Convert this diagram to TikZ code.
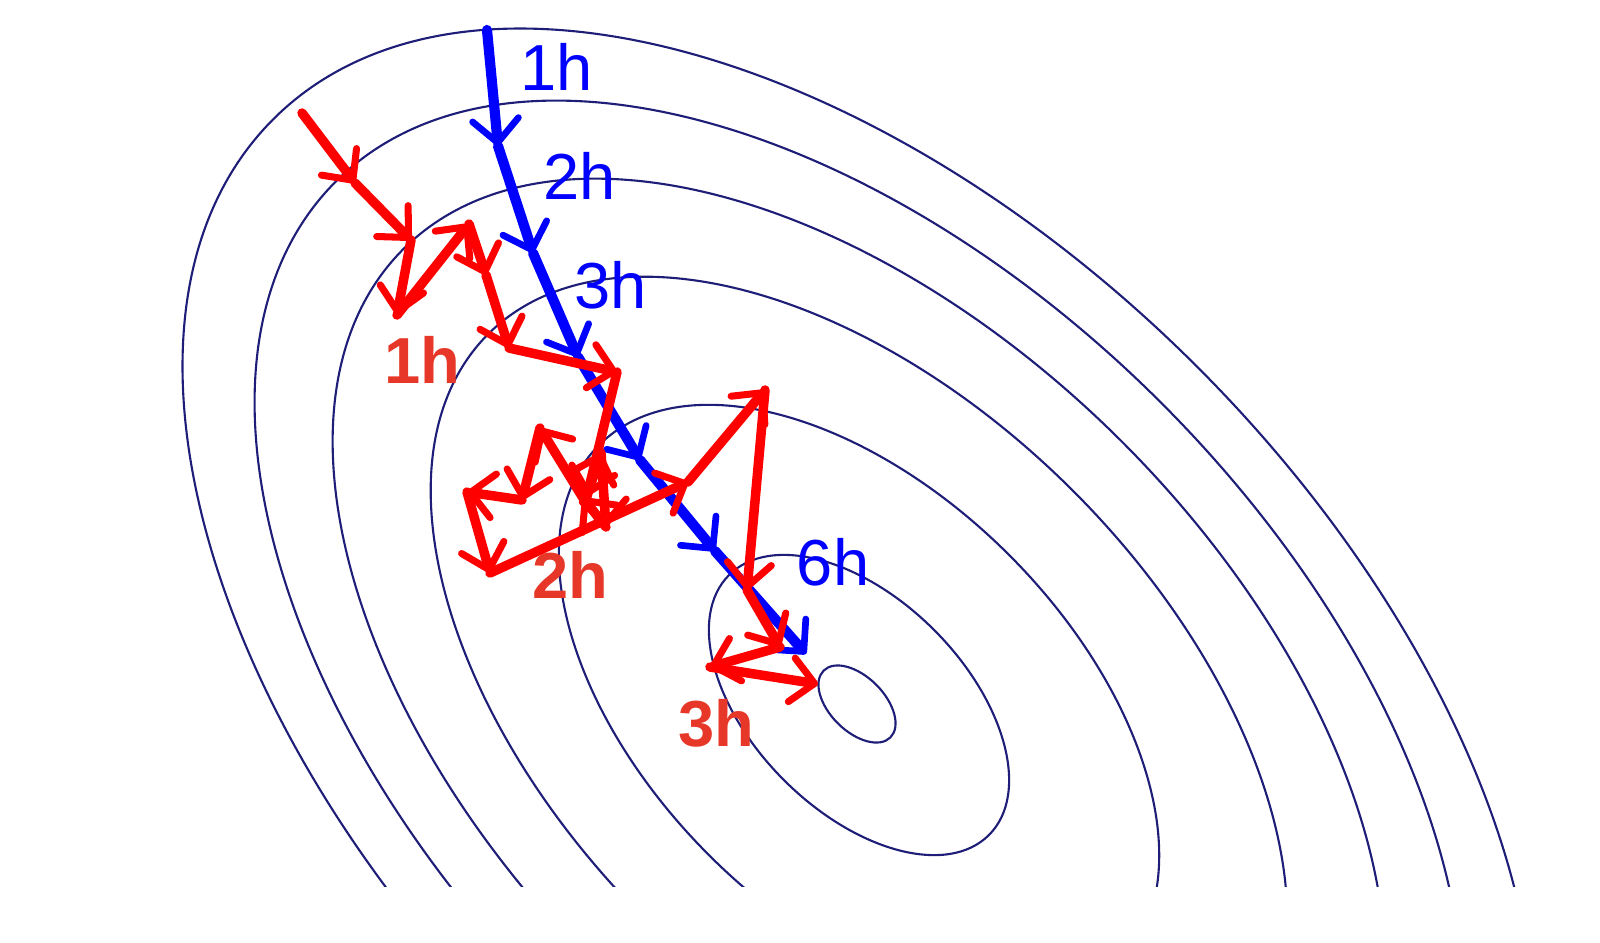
\documentclass[tikz,border=0pt]{standalone}
\usepackage{fontspec}
\setmainfont{Liberation Sans}
\usetikzlibrary{arrows.meta}
\definecolor{contour}{RGB}{30,30,120}
\definecolor{stepred}{RGB}{255,0,0}
\definecolor{labred}{RGB}{230,55,40}
\begin{document}
\begin{tikzpicture}[x=0.01cm, y=-0.01cm, line join=round, line cap=round,
	level/.style={draw=contour, line width=0.6pt},
	bluestep/.style={draw=blue, line width=2.9pt, -{Straight Barb[length=2.3mm, width=4.6mm, line width=1.9pt 0, round]}},
	redstep/.style={draw=stepred, line width=2.7pt, -{Straight Barb[length=2.3mm, width=4.4mm, line width=2pt 0, round]}},
	bluelab/.style={text=blue, inner sep=0pt, font=\fontsize{18.5}{20}\selectfont},
	redlab/.style={text=labred, inner sep=0pt, font=\fontsize{18.5}{20}\selectfont\bfseries}]
	\useasboundingbox (0,0) rectangle (1600,942);
	\coordinate (m0) at (857,704);
	\coordinate (m) at (859,705);
	\begin{scope}
		\clip (0,0) rectangle (1600,886);
		\draw[level, rotate around={-45:(m0)}] (m0) ellipse (0.472cm and 0.272cm);
		\foreach \a/\b in {1.837/1.061, 3.674/2.121, 5.242/3.026, 6.442/3.719, 7.397/4.271, 8.279/4.780}
			\draw[level, rotate around={-45:(m)}] (m) ellipse (\a cm and \b cm);
	\end{scope}
	\coordinate (b0) at (487,30);
	\coordinate (b1) at (498,146);
	\coordinate (b2) at (533,253);
	\coordinate (b3) at (578,357);
	\coordinate (b4) at (640,460);
	\coordinate (b5) at (715,551);
	\coordinate (b6) at (806,654);
	\foreach \i [count=\j from 1] in {0,...,5}
		\draw[bluestep] (b\i) -- (b\j);
	\coordinate (r0) at (302,113);
	\coordinate (r1) at (355,183);
	\coordinate (r2) at (411,240);
	\coordinate (r3) at (397,315);
	\coordinate (r4) at (469,224);
	\coordinate (r5) at (486,275);
	\coordinate (r6) at (509,348);
	\coordinate (r7) at (617,372);
	\coordinate (r8) at (587,496);
	\coordinate (r9) at (601,453);
	\coordinate (r10) at (606,527);
	\coordinate (r11) at (583,498);
	\coordinate (r12) at (540,428);
	\coordinate (r13) at (522,500);
	\coordinate (r14) at (467,492);
	\coordinate (r15) at (490,573);
	\coordinate (r16) at (688,482);
	\coordinate (r17) at (765,390);
	\coordinate (r18) at (747,590);
	\coordinate (r19) at (780,647);
	\coordinate (r20) at (710,667);
	\coordinate (r21) at (818,684);
	\foreach \i [count=\j from 1] in {0,...,20}
		\draw[redstep] (r\i) -- (r\j);
	\node[bluelab] (hb1) at (557,67) {1h};
	\node[bluelab] (hb2) at (580,176) {2h};
	\node[bluelab] (hb3) at (611,285) {3h};
	\node[bluelab] (hb6) at (833,562) {6h};
	\node[redlab] (hr1) at (422,360) {1h};
	\node[redlab] (hr2) at (570,575) {2h};
	\node[redlab] (hr3) at (716,723) {3h};
\end{tikzpicture}
\end{document}
